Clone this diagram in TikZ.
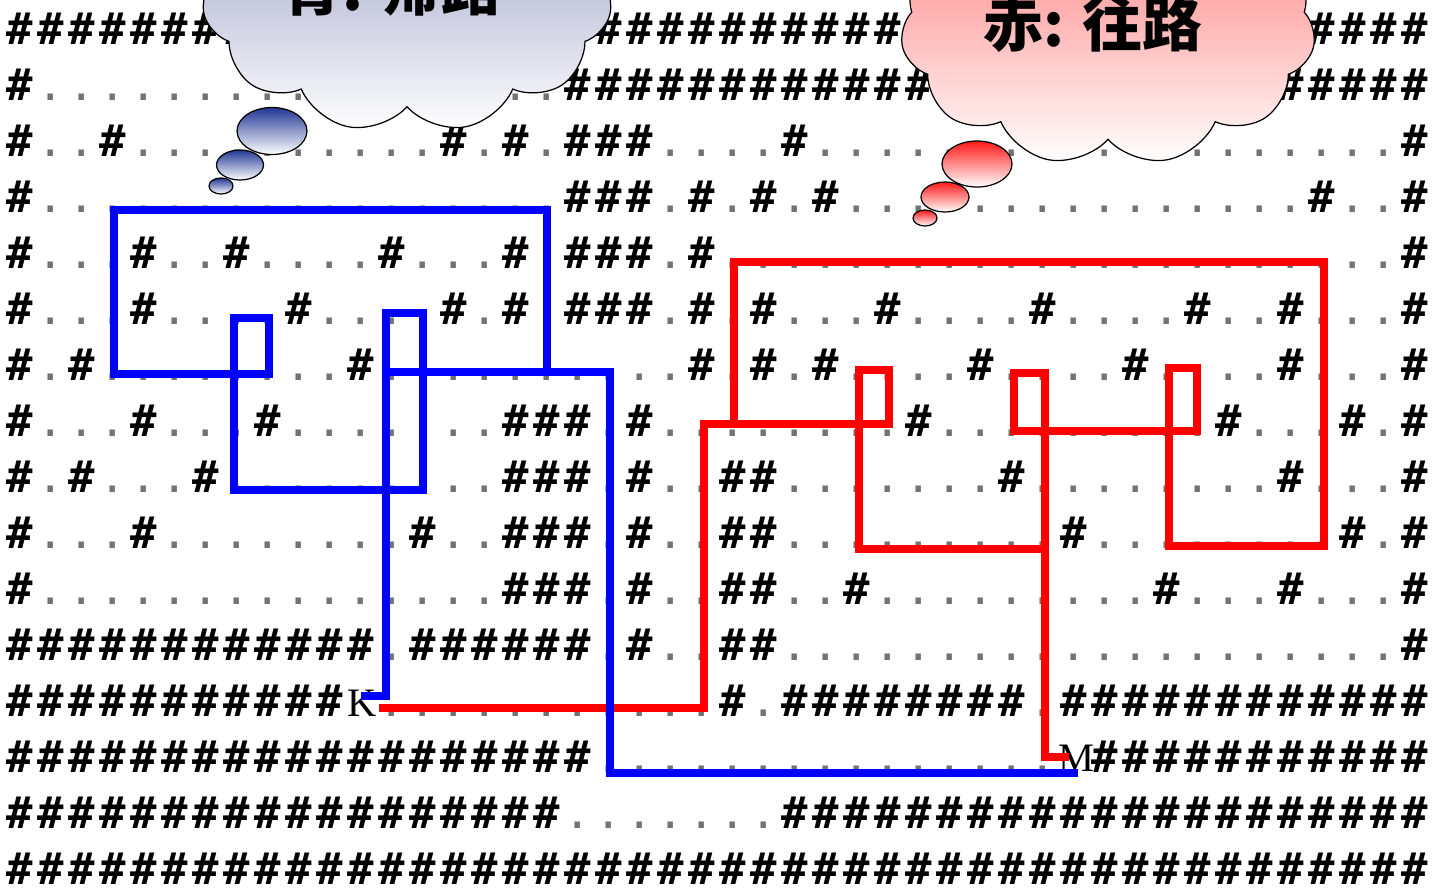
\documentclass[tikz,border=0pt]{standalone}
\usepackage{fontspec}
\usetikzlibrary{shapes.symbols,shapes.geometric}
\newfontfamily\mazefont{DejaVu Sans Mono}
\newfontfamily\labelfont{Liberation Serif}
\newfontfamily\jpfont{Noto Sans CJK JP}

\definecolor{mzdot}{gray}{0.45}
\definecolor{pathblue}{RGB}{0,0,255}
\definecolor{pathred}{RGB}{255,0,0}
\definecolor{bluecloudtop}{RGB}{150,155,198}
\definecolor{bluecloudmid}{RGB}{196,198,220}
\definecolor{redcloudtop}{RGB}{255,120,120}
\definecolor{redcloudmid}{RGB}{255,185,185}
\definecolor{bluebubble}{RGB}{35,55,150}
\definecolor{redbubble}{RGB}{255,25,25}

% one maze cell: X = wall, . = floor, - = empty cell
\newlength\mzpitch
\setlength\mzpitch{0.62cm}
\newcommand\mzglyph[1]{\ifx#1X{\bfseries\#}\else\ifx#1.{\mdseries\color{mzdot}.}\else\ifx#1-\relax\else#1\fi\fi\fi}
\newcommand\mzcell[1]{\makebox[\mzpitch][c]{\mzglyph{#1}}}
\def\mzloop#1{\ifx#1\relax\else\mzcell{#1}\expandafter\mzloop\fi}
\newcommand\mzrow[1]{\mzloop#1\relax}

\begin{document}
\begin{tikzpicture}[x=0.02cm, y=-0.02cm,
  mazerow/.style={anchor=base west, inner sep=0pt, outer sep=0pt,
    font=\mazefont\fontsize{25}{25}\selectfont},
  endmark/.style={anchor=base, inner sep=0pt,
    font=\labelfont\fontsize{23}{23}\selectfont},
  bluepath/.style={draw=pathblue, line width=0.16cm},
  redpath/.style={draw=pathred, line width=0.16cm},
  thought/.style={cloud, cloud puffs=11, cloud puff arc=115, draw=black,
    line width=0.7pt, inner sep=0pt},
  bubble/.style={ellipse, draw=black, line width=0.7pt, inner sep=0pt},
  cloudlabel/.style={inner sep=0pt, font=\jpfont\bfseries\fontsize{34}{34}\selectfont}]

\useasboundingbox (0,0) rectangle (1433,887);
\clip (0,0) rectangle (1433,887);

% the maze, one text line per row
\node[mazerow] (row0)  at (4.5,44)  {\mzrow{XXXXXXXXXX XXXXXXXXXX XXXXXXXXXX XXXXXXXXXX XXXXXX}};
\node[mazerow] (row1)  at (4.5,100) {\mzrow{X......... .....X..XX XXXXXXXXXX XXXXXXXXXX XXXXXX}};
\node[mazerow] (row2)  at (4.5,156) {\mzrow{X..X...... ....X.X.XX X....X.... .......... .....X}};
\node[mazerow] (row3)  at (4.5,212) {\mzrow{X......... ........XX X.X.X.X... .......... ..X..X}};
\node[mazerow] (row4)  at (4.5,268) {\mzrow{X...X..X.. ..X...X.XX X.X....... .......... .....X}};
\node[mazerow] (row5)  at (4.5,324) {\mzrow{X...X....X ....X.X.XX X.X.X...X. ...X....X. .X...X}};
\node[mazerow] (row6)  at (4.5,380) {\mzrow{X.X....... .X........ ..X.X.X... .X....X... .X...X}};
\node[mazerow] (row7)  at (4.5,436) {\mzrow{X...X...X. ......XXX. X........X .........X ...X.X}};
\node[mazerow] (row8)  at (4.5,492) {\mzrow{X.X...X... ......XXX. X..XX..... ..X....... .X...X}};
\node[mazerow] (row9)  at (4.5,548) {\mzrow{X...X..... ...X..XXX. X..XX..... ....X..... ...X.X}};
\node[mazerow] (row10) at (4.5,604) {\mzrow{X......... ......XXX. X..XX..X.. .......X.. .X...X}};
\node[mazerow] (row11) at (4.5,660) {\mzrow{XXXXXXXXXX XX.XXXXXX. X..XX..... .......... .....X}};
\node[mazerow] (row12) at (4.5,716) {\mzrow{XXXXXXXXXX X-........ ...X.XXXXX XXX.XXXXXX XXXXXX}};
\node[mazerow] (row13) at (4.5,772) {\mzrow{XXXXXXXXXX XXXXXXXXX. .......... ....-XXXXX XXXXXX}};
\node[mazerow] (row14) at (4.5,828) {\mzrow{XXXXXXXXXX XXXXXXXX.. .....XXXXX XXXXXXXXXX XXXXXX}};
\node[mazerow] (row15) at (4.5,884) {\mzrow{XXXXXXXXXX XXXXXXXXXX XXXXXXXXXX XXXXXXXXXX XXXXXX}};

% start and goal
\node[endmark] (K) at (362,716) {K};
\node[endmark] (M) at (1076,771) {M};

% outbound route, K to M
\coordinate (rS)  at (379,707.5);
\coordinate (r1)  at (703.5,707.5);
\coordinate (r2)  at (703.5,423.5);
\coordinate (r3)  at (889,423.5);
\coordinate (r4)  at (889,370);
\coordinate (r5)  at (858.5,370);
\coordinate (r6)  at (858.5,549);
\coordinate (r7)  at (1044.5,549);
\coordinate (r8)  at (1044.5,373);
\coordinate (r9)  at (1013.5,373);
\coordinate (r10) at (1013.5,430.5);
\coordinate (r11) at (1196.5,430.5);
\coordinate (r12) at (1196.5,368);
\coordinate (r13) at (1169,368);
\coordinate (r14) at (1169,546);
\coordinate (r15) at (1324,546);
\coordinate (r16) at (1324,262);
\coordinate (r17) at (733.5,262);
\coordinate (r18) at (733.5,423.5);
\coordinate (r19) at (1044.5,757);
\coordinate (rE)  at (1069,757);
\draw[redpath] (rS) -- (r1) -- (r2) -- (r3) -- (r4) -- (r5) -- (r6) -- (r7)
  -- (r8) -- (r9) -- (r10) -- (r11) -- (r12) -- (r13) -- (r14) -- (r15)
  -- (r16) -- (r17) -- (r18);
\draw[redpath] (r7) -- (r19) -- (rE);

% return route, M to K
\coordinate (bS)  at (1078,772.5);
\coordinate (b1)  at (609.5,772.5);
\coordinate (b2)  at (609.5,371.5);
\coordinate (b3)  at (386,371.5);
\coordinate (b4)  at (386,312.5);
\coordinate (b5)  at (423,312.5);
\coordinate (b6)  at (423,490);
\coordinate (b7)  at (233.5,490);
\coordinate (b8)  at (233.5,318);
\coordinate (b9)  at (269,318);
\coordinate (b10) at (269,374);
\coordinate (b11) at (113.5,374);
\coordinate (b12) at (113.5,210);
\coordinate (b13) at (547,210);
\coordinate (b14) at (547,371.5);
\coordinate (b15) at (386,695.5);
\coordinate (bE)  at (361,695.5);
\draw[bluepath] (bS) -- (b1) -- (b2) -- (b3) -- (b4) -- (b5) -- (b6) -- (b7)
  -- (b8) -- (b9) -- (b10) -- (b11) -- (b12) -- (b13) -- (b14);
\draw[bluepath] (b3) -- (b15) -- (bE);

% thought clouds
\node[thought, minimum width=8.2cm, minimum height=5.5cm,
  top color=bluecloudtop, bottom color=white, middle color=bluecloudmid]
  (blueCloud) at (407,-5) {};
\node[cloudlabel] (blueLabel) at (392,-12) {青: 帰路};
\node[bubble, minimum width=1.4cm, minimum height=0.94cm,
  top color=bluebubble, bottom color=white] (bb1) at (272,131) {};
\node[bubble, minimum width=0.94cm, minimum height=0.6cm,
  top color=bluebubble, bottom color=white] (bb2) at (240,165) {};
\node[bubble, minimum width=0.48cm, minimum height=0.32cm,
  top color=bluebubble, bottom color=white] (bb3) at (221,186) {};

\node[thought, minimum width=8.3cm, minimum height=5.5cm,
  top color=redcloudtop, bottom color=white, middle color=redcloudmid]
  (redCloud) at (1108,28) {};
\node[cloudlabel] (redLabel) at (1093,24) {赤: 往路};
\node[bubble, minimum width=1.4cm, minimum height=0.92cm,
  top color=redbubble, bottom color=white] (rb1) at (977,164) {};
\node[bubble, minimum width=0.96cm, minimum height=0.6cm,
  top color=redbubble, bottom color=white] (rb2) at (945,197) {};
\node[bubble, minimum width=0.48cm, minimum height=0.32cm,
  top color=redbubble, bottom color=white] (rb3) at (925,218) {};
\end{tikzpicture}
\end{document}
